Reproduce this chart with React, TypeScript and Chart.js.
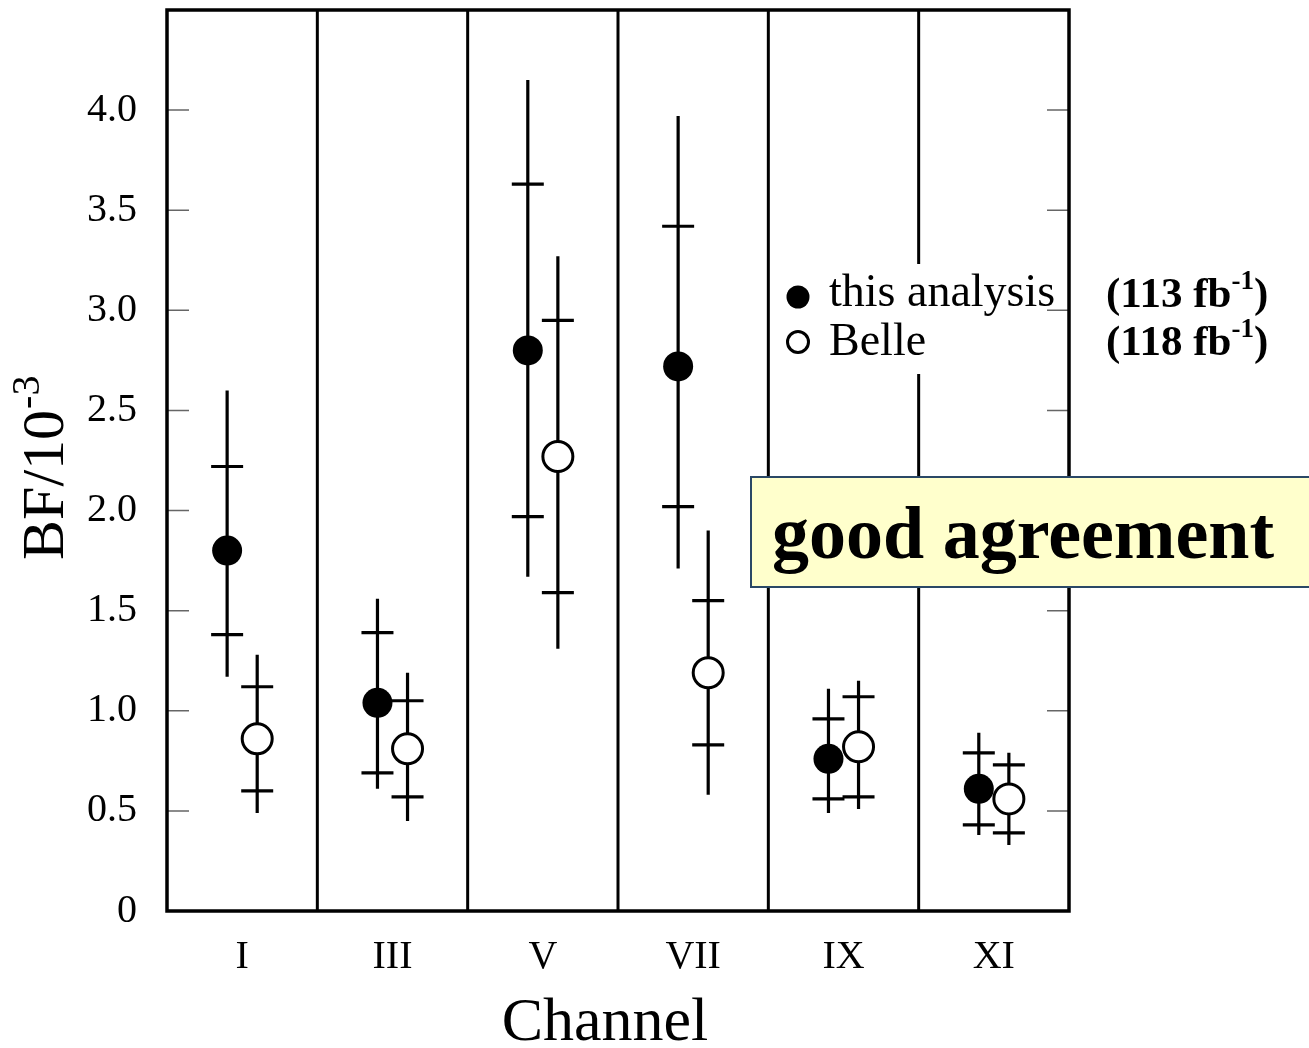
import React, { useEffect, useRef } from "react";
import { Chart, registerables } from "chart.js";

Chart.register(...registerables);

const channels = ["I", "III", "V", "VII", "IX", "XI"];
const thisValue = [1.8, 1.04, 2.8, 2.72, 0.76, 0.61];
const thisInnerLow = [1.38, 0.69, 1.97, 2.02, 0.56, 0.43];
const thisInnerHigh = [2.22, 1.39, 3.63, 3.42, 0.96, 0.79];
const thisOuterLow = [1.17, 0.61, 1.67, 1.71, 0.49, 0.38];
const thisOuterHigh = [2.6, 1.56, 4.15, 3.97, 1.11, 0.89];
const belleValue = [0.86, 0.81, 2.27, 1.19, 0.82, 0.56];
const belleInnerLow = [0.6, 0.57, 1.59, 0.83, 0.57, 0.39];
const belleInnerHigh = [1.12, 1.05, 2.95, 1.55, 1.07, 0.73];
const belleOuterLow = [0.49, 0.45, 1.31, 0.58, 0.51, 0.33];
const belleOuterHigh = [1.28, 1.19, 3.27, 1.9, 1.15, 0.79];
const yTickValues = [0, 0.5, 1.0, 1.5, 2.0, 2.5, 3.0, 3.5, 4.0];

const SERIF = '"Liberation Serif", "Times New Roman", serif';

const errorBarPlugin = {
  id: "errorBars",
  beforeDatasetsDraw(chart: any) {
    const { ctx, scales } = chart;
    const x = scales.x;
    const y = scales.y;
    const area = chart.chartArea;
    ctx.save();
    ctx.strokeStyle = "#000";
    ctx.lineWidth = 3;
    for (let i = 1; i < channels.length; i++) {
      const px = x.getPixelForValue(i);
      ctx.beginPath();
      ctx.moveTo(px, area.top);
      ctx.lineTo(px, area.bottom);
      ctx.stroke();
    }
    ctx.strokeStyle = "#666";
    ctx.lineWidth = 1.5;
    yTickValues.forEach((v) => {
      if (v === 0) return;
      const py = y.getPixelForValue(v);
      ctx.beginPath();
      ctx.moveTo(area.left, py);
      ctx.lineTo(area.left + 22, py);
      ctx.moveTo(area.right, py);
      ctx.lineTo(area.right - 22, py);
      ctx.stroke();
    });
    ctx.strokeStyle = "#000";
    ctx.lineWidth = 3.2;
    const drawBar = (xv: number, lo: number, hi: number, ilo: number, ihi: number) => {
      const px = x.getPixelForValue(xv);
      ctx.beginPath();
      ctx.moveTo(px, y.getPixelForValue(lo));
      ctx.lineTo(px, y.getPixelForValue(hi));
      const a = y.getPixelForValue(ilo);
      const b = y.getPixelForValue(ihi);
      ctx.moveTo(px - 16, a);
      ctx.lineTo(px + 16, a);
      ctx.moveTo(px - 16, b);
      ctx.lineTo(px + 16, b);
      ctx.stroke();
    };
    channels.forEach((_, i) => {
      drawBar(i + 0.4, thisOuterLow[i], thisOuterHigh[i], thisInnerLow[i], thisInnerHigh[i]);
      drawBar(i + 0.6, belleOuterLow[i], belleOuterHigh[i], belleInnerLow[i], belleInnerHigh[i]);
    });
    ctx.restore();
  },
  afterDatasetsDraw(chart: any) {
    const { ctx } = chart;
    const area = chart.chartArea;
    ctx.save();
    ctx.strokeStyle = "#000";
    ctx.lineWidth = 3.5;
    ctx.strokeRect(area.left, area.top, area.right - area.left, area.bottom - area.top);

    ctx.fillStyle = "#fff";
    ctx.fillRect(780, 264, 265, 110);
    ctx.fillStyle = "#000";
    ctx.beginPath();
    ctx.arc(798, 297, 11.5, 0, Math.PI * 2);
    ctx.fill();
    ctx.lineWidth = 3;
    ctx.beginPath();
    ctx.arc(798, 342, 10.5, 0, Math.PI * 2);
    ctx.fillStyle = "#fff";
    ctx.fill();
    ctx.stroke();
    ctx.fillStyle = "#000";
    ctx.textBaseline = "alphabetic";
    ctx.textAlign = "left";
    ctx.font = `46px ${SERIF}`;
    ctx.fillText("this analysis", 829, 306);
    ctx.fillText("Belle", 829, 355);

    const lumi = (txt: string, yb: number) => {
      let xx = 1106;
      ctx.font = `bold 43px ${SERIF}`;
      ctx.fillText(txt, xx, yb);
      xx += ctx.measureText(txt).width;
      ctx.font = `bold 27px ${SERIF}`;
      ctx.fillText("-1", xx, yb - 18);
      xx += ctx.measureText("-1").width;
      ctx.font = `bold 43px ${SERIF}`;
      ctx.fillText(")", xx, yb);
    };
    lumi("(113 fb", 307);
    lumi("(118 fb", 355);

    ctx.fillStyle = "#FFFFCC";
    ctx.fillRect(751, 477, 600, 110);
    ctx.strokeStyle = "#2A4866";
    ctx.lineWidth = 2;
    ctx.strokeRect(751, 477, 600, 110);
    ctx.fillStyle = "#000";
    ctx.font = `bold 74px ${SERIF}`;
    ctx.fillText("good agreement", 772, 558);

    ctx.textAlign = "center";
    ctx.font = `62px ${SERIF}`;
    ctx.fillText("Channel", 605, 1040);

    ctx.translate(63, 560);
    ctx.rotate(-Math.PI / 2);
    ctx.textAlign = "left";
    ctx.font = `60px ${SERIF}`;
    ctx.fillText("BF/10", 0, 0);
    const w = ctx.measureText("BF/10").width;
    ctx.font = `40px ${SERIF}`;
    ctx.fillText("-3", w + 1, -24);
    ctx.restore();
  },
};

const zeroPad = (s: any) => {
  s.paddingTop = 0;
  s.paddingBottom = 0;
  s.paddingLeft = 0;
  s.paddingRight = 0;
};

export default function App() {
  const ref = useRef<HTMLCanvasElement>(null);
  useEffect(() => {
    if (!ref.current) return;
    const chart = new Chart(ref.current, {
      type: "scatter",
      data: {
        datasets: [
          {
            label: "this analysis",
            data: thisValue.map((v, i) => ({ x: i + 0.4, y: v })),
            pointRadius: 15,
            pointHoverRadius: 15,
            backgroundColor: "#000",
            borderColor: "#000",
            borderWidth: 0,
          },
          {
            label: "Belle",
            data: belleValue.map((v, i) => ({ x: i + 0.6, y: v })),
            pointRadius: 15,
            pointHoverRadius: 15,
            backgroundColor: "#fff",
            borderColor: "#000",
            borderWidth: 3,
          },
        ],
      },
      options: {
        responsive: false,
        animation: false,
        devicePixelRatio: 1,
        layout: { autoPadding: false, padding: { left: 0, top: 10, right: 240, bottom: 0 } },
        plugins: { legend: { display: false }, tooltip: { enabled: false } },
        scales: {
          x: {
            type: "linear",
            min: 0,
            max: 6,
            grid: { display: false, drawTicks: false },
            border: { display: false },
            afterBuildTicks: (s: any) => {
              s.ticks = channels.map((_, i) => ({ value: i + 0.5 }));
            },
            afterFit: (s: any) => {
              s.height = 137;
              zeroPad(s);
            },
            ticks: {
              padding: 22,
              color: "#000",
              font: { family: SERIF, size: 40 },
              maxRotation: 0,
              autoSkip: false,
              callback: (v: any) => channels[Math.round(Number(v) - 0.5)] ?? "",
            },
          },
          y: {
            min: 0,
            max: 4.5,
            grid: { display: false, drawTicks: false },
            border: { display: false },
            afterBuildTicks: (s: any) => {
              s.ticks = yTickValues.map((v) => ({ value: v }));
            },
            afterFit: (s: any) => {
              s.width = 167;
              zeroPad(s);
            },
            ticks: {
              padding: 30,
              color: "#000",
              font: { family: SERIF, size: 40 },
              callback: (v: any) => (Number(v) === 0 ? "0" : Number(v).toFixed(1)),
            },
          },
        },
      },
      plugins: [errorBarPlugin],
    });
    return () => chart.destroy();
  }, []);
  return (
    <div style={{ position: "absolute", left: 0, top: 0, width: 1309, height: 1048, background: "#fff" }}>
      <canvas ref={ref} width={1309} height={1048} />
    </div>
  );
}
